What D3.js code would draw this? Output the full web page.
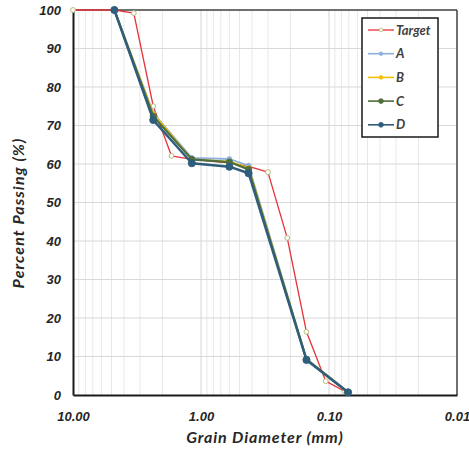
<!DOCTYPE html>
<html>
<head>
<meta charset="utf-8">
<script src="https://cdn.jsdelivr.net/npm/d3@7"></script>
<style>
  html, body { margin: 0; padding: 0; background: #fff; }
  svg { display: block; font-family: Lato, "Open Sans", sans-serif; }
</style>
</head>
<body>
<svg id="chart" width="469" height="450"></svg>
<script>
// Grain size data (diameter in mm, percent passing)
const targetSizes = [10, 4.75, 3.35, 2.36, 1.7, 1.18, 0.6, 0.425, 0.3, 0.212, 0.15, 0.106, 0.075];
const targetPass  = [100, 100, 99.2, 75, 62.1, 61.2, 60.3, 59.4, 57.9, 40.8, 16.4, 3.6, 0.9];

const sampleSizes = [4.75, 2.36, 1.18, 0.6, 0.425, 0.15, 0.071];
const passA = [100, 73.2, 61.6, 61.3, 59.6, 9.4, 0.8];
const passB = [100, 73.0, 61.2, 60.6, 59.0, 9.3, 0.8];
const passC = [100, 72.4, 61.2, 60.5, 58.6, 9.2, 0.7];
const passD = [100, 71.4, 60.2, 59.3, 57.6, 9.1, 0.7];

const seriesNames = ["Target", "A", "B", "C", "D"];
const xTickValues = [10, 1, 0.1, 0.01];
const xTickLabels = ["10.00", "1.00", "0.10", "0.01"];
const yTickValues = [0, 10, 20, 30, 40, 50, 60, 70, 80, 90, 100];

const series = [
  { name: "Target", sizes: targetSizes, vals: targetPass, color: "#e8313a", width: 1.3, marker: "open", mcolor: "#b8b878", r: 2.4 },
  { name: "A", sizes: sampleSizes, vals: passA, color: "#8eb1d9", width: 1.8, marker: "small", mcolor: "#8eb1d9", r: 2.4 },
  { name: "B", sizes: sampleSizes, vals: passB, color: "#f5c000", width: 1.8, marker: "small", mcolor: "#f5c000", r: 2.2 },
  { name: "C", sizes: sampleSizes, vals: passC, color: "#4e6e3c", width: 2.2, marker: "fill", mcolor: "#4e6e3c", r: 3.2 },
  { name: "D", sizes: sampleSizes, vals: passD, color: "#2f5d7c", width: 2.4, marker: "fill", mcolor: "#2f5d7c", r: 3.6 }
];

const svg = d3.select("#chart");
const m = { left: 73, right: 457, top: 10, bottom: 395 };

const x = d3.scaleLog().domain([10, 0.01]).range([m.left, m.right]);
const y = d3.scaleLinear().domain([0, 100]).range([m.bottom, m.top]);

// Minor vertical gridlines
const minor = [];
[1, 0.1, 0.01].forEach(dec => { for (let k = 2; k <= 9; k++) minor.push(dec * k); });
svg.append("g").selectAll("line").data(minor).join("line")
  .attr("x1", d => x(d)).attr("x2", d => x(d))
  .attr("y1", m.top).attr("y2", m.bottom)
  .attr("stroke", "#e8e8e8").attr("stroke-width", 1);

// Major vertical gridlines
svg.append("g").selectAll("line").data([1, 0.1]).join("line")
  .attr("x1", d => x(d)).attr("x2", d => x(d))
  .attr("y1", m.top).attr("y2", m.bottom)
  .attr("stroke", "#d4d4d4").attr("stroke-width", 1);

// Horizontal gridlines
svg.append("g").selectAll("line").data(yTickValues.filter(v => v > 0 && v < 100)).join("line")
  .attr("x1", m.left).attr("x2", m.right)
  .attr("y1", d => y(d)).attr("y2", d => y(d))
  .attr("stroke", "#d9d9d9").attr("stroke-width", 1);

// Plot border
svg.append("line").attr("x1", m.left).attr("x2", m.right).attr("y1", m.top).attr("y2", m.top)
  .attr("stroke", "#404040").attr("stroke-width", 1.5);
svg.append("line").attr("x1", m.right).attr("x2", m.right).attr("y1", m.top).attr("y2", m.bottom)
  .attr("stroke", "#404040").attr("stroke-width", 1.5);

// Axes
const yAxis = d3.axisLeft(y).tickValues(yTickValues).tickSize(0).tickPadding(12);
const gy = svg.append("g").attr("transform", `translate(${m.left},0)`).call(yAxis);
gy.select(".domain").attr("stroke", "#1a1a1a").attr("stroke-width", 2);
gy.selectAll("text").attr("font-size", 13).attr("font-weight", "bold").attr("font-style", "italic")
  .attr("fill", "#262626");

const xAxis = d3.axisBottom(x).tickValues(xTickValues).tickSize(0).tickPadding(17)
  .tickFormat((d, i) => xTickLabels[i]);
const gx = svg.append("g").attr("transform", `translate(0,${m.bottom})`).call(xAxis);
gx.select(".domain").attr("stroke", "#1a1a1a").attr("stroke-width", 2);
gx.selectAll("text").attr("font-size", 13).attr("font-weight", "bold").attr("font-style", "italic")
  .attr("fill", "#262626");

// Axis titles
svg.append("text").attr("x", 265).attr("y", 443).attr("text-anchor", "middle")
  .attr("font-size", 16).attr("letter-spacing", 0.9).attr("font-weight", "bold").attr("font-style", "italic").attr("fill", "#262626")
  .text("Grain Diameter (mm)");
svg.append("text").attr("transform", "translate(24,213) rotate(-90)").attr("text-anchor", "middle")
  .attr("font-size", 16).attr("letter-spacing", 1.1).attr("font-weight", "bold").attr("font-style", "italic").attr("fill", "#262626")
  .text("Percent Passing (%)");

// Lines and markers
const line = d3.line().x(d => x(d[0])).y(d => y(d[1]));
series.forEach(s => {
  const pts = s.sizes.map((d, i) => [d, s.vals[i]]);
  svg.append("path").datum(pts).attr("d", line)
    .attr("fill", "none").attr("stroke", s.color).attr("stroke-width", s.width)
    .attr("stroke-linejoin", "round");
  svg.append("g").selectAll("circle").data(pts).join("circle")
    .attr("cx", d => x(d[0])).attr("cy", d => y(d[1])).attr("r", s.r)
    .attr("fill", s.marker === "open" ? "#fff" : s.mcolor)
    .attr("stroke", s.mcolor).attr("stroke-width", s.marker === "open" ? 1 : 0.8);
});

// Legend
const lg = svg.append("g");
lg.append("rect").attr("x", 362).attr("y", 18).attr("width", 76).attr("height", 119)
  .attr("fill", "#fff").attr("stroke", "#1a1a1a").attr("stroke-width", 1.5);
series.forEach((s, i) => {
  const yy = 30 + i * 23.7;
  lg.append("line").attr("x1", 368).attr("x2", 394).attr("y1", yy).attr("y2", yy)
    .attr("stroke", s.color).attr("stroke-width", s.name === "Target" ? 1.3 : 1.6);
  lg.append("circle").attr("cx", 381).attr("cy", yy).attr("r", s.marker === "fill" ? 2.4 : 1.8)
    .attr("fill", s.marker === "open" ? "#fff" : s.mcolor).attr("stroke", s.mcolor).attr("stroke-width", 0.8);
  lg.append("text").attr("x", 396).attr("y", yy + 4.5).attr("font-size", 13)
    .attr("font-weight", "bold").attr("font-style", "italic").attr("fill", "#404040")
    .text(seriesNames[i]);
});
</script>
</body>
</html>
